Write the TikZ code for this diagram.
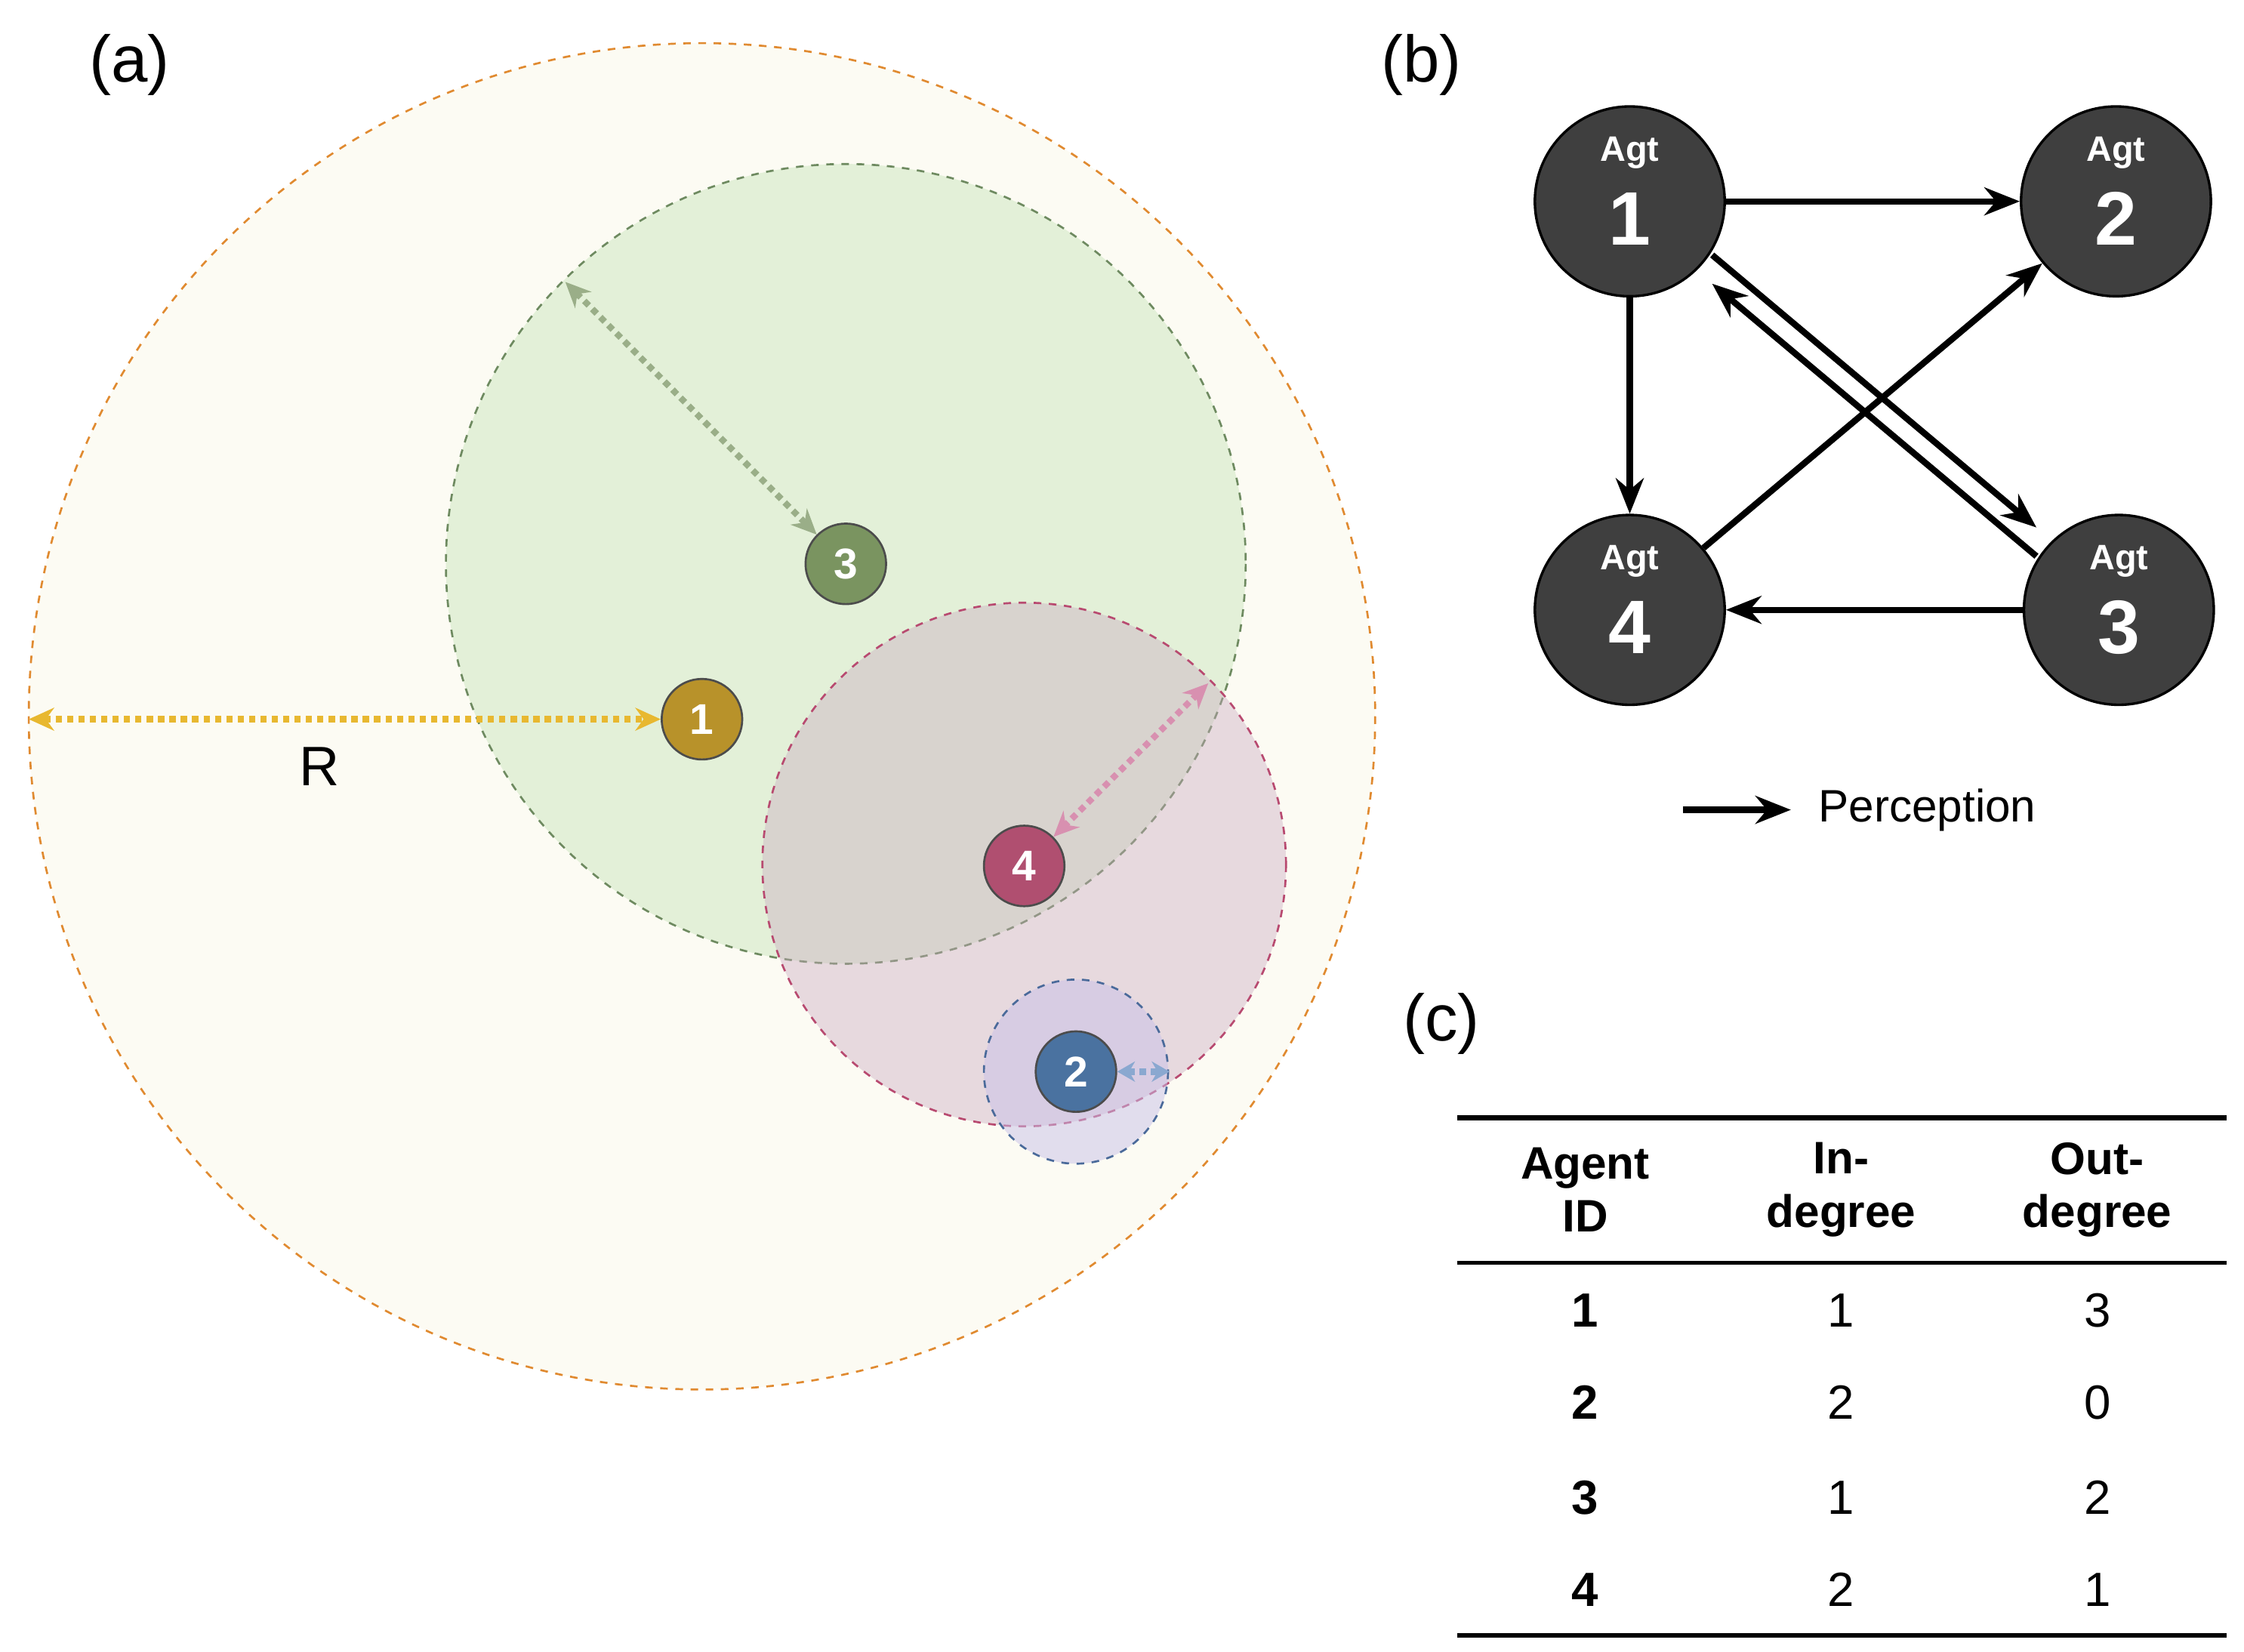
\documentclass[tikz,border=0pt]{standalone}
\usepackage{fontspec}
\setmainfont{Liberation Sans}
\usetikzlibrary{arrows.meta}
\definecolor{bigfill}{HTML}{FCFBF3}
\definecolor{bigline}{HTML}{E08A30}
\definecolor{grfill}{HTML}{E3F0D8}
\definecolor{grline}{HTML}{6E8A60}
\definecolor{pkfill}{HTML}{C8A8C0}
\definecolor{pkline}{HTML}{B84A70}
\definecolor{blfill}{HTML}{C8C0E8}
\definecolor{blline}{HTML}{4A6A9A}
\definecolor{a1}{HTML}{B8922A}
\definecolor{a2}{HTML}{4A72A0}
\definecolor{a3}{HTML}{7A9460}
\definecolor{a4}{HTML}{B04F70}
\definecolor{agt}{HTML}{3F3F3F}
\begin{document}
\begin{tikzpicture}[x=0.02cm,y=-0.02cm,
  agent/.style={circle,draw=black!70,line width=0.8pt,minimum size=1.12cm,inner sep=0pt,text=white,font=\bfseries\fontsize{17}{17}\selectfont},
  big/.style={circle,draw=black,line width=1pt,fill=agt,minimum size=2.64cm,inner sep=0pt},
  agtt/.style={text=white,font=\bfseries\fontsize{14}{14}\selectfont,inner sep=0pt},
  agtn/.style={text=white,font=\bfseries\fontsize{30}{30}\selectfont,inner sep=0pt},
  per/.style={line width=2.5pt,-{Stealth[length=14pt,width=11pt]}},
  dda/.style={line width=2.5pt,dotted,{Stealth[length=10pt,width=9pt]}-{Stealth[length=10pt,width=9pt]}},
  lab/.style={font=\fontsize{26}{26}\selectfont},
  tx/.style={font=\fontsize{18}{21}\selectfont,align=center}]
\useasboundingbox (0,0) rectangle (1560,1148);
% (a)
\draw[bigline,dashed,line width=0.8pt,fill=bigfill] (488,498) circle (468);
\draw[grline,dashed,line width=0.8pt,fill=grfill] (588,392) circle (278);
\draw[pkline,dashed,line width=0.8pt,fill=pkfill,fill opacity=0.4] (712,601) circle (182);
\draw[blline,dashed,line width=0.8pt,fill=blfill,fill opacity=0.5] (748,745) circle (64);
\node[lab] (la) at (90,45) {(a)};
\node[agent,fill=a1] (n1) at (488,500) {1};
\node[agent,fill=a3] (n3) at (588,392) {3};
\node[agent,fill=a4] (n4) at (712,602) {4};
\node[agent,fill=a2] (n2) at (748,745) {2};
\coordinate (ry) at (20,500);
\coordinate (gy) at (393,196);
\coordinate (py) at (840,475);
\coordinate (by) at (813,745);
\draw[dda,color={rgb,255:red,232;green,184;blue,48}] (ry) -- (n1);
\draw[dda,color={rgb,255:red,154;green,174;blue,136}] (gy) -- (n3);
\draw[dda,color={rgb,255:red,216;green,144;blue,176}] (py) -- (n4);
\draw[line width=2.5pt,dotted,{Stealth[length=7pt,width=8pt]}-{Stealth[length=7pt,width=8pt]},color={rgb,255:red,138;green,168;blue,208}] (n2) -- (by);
\node[font=\fontsize{22}{22}\selectfont] (R) at (222,533) {R};
% (b)
\node[lab] (lb) at (988,45) {(b)};
\foreach \n/\x/\y in {1/1133/140,2/1471/140,4/1133/424,3/1473/424}{
  \node[big] (b\n) at (\x,\y) {};
  \node[agtt] (b\n t) at (\x,\y-34) {Agt};
  \node[agtn] (b\n n) at (\x,\y+12) {\n};
}
\draw[per] (b1) -- (b2);
\draw[per] (b1) -- (b4);
\draw[per] ([shift={(10,-10)}]b1.-45) -- ([shift={(-10,-10)}]b3.135);
\draw[per] ([shift={(-10,10)}]b3.135) -- ([shift={(10,10)}]b1.-45);
\draw[per] (b4) -- (b2);
\draw[per] (b3) -- (b4);
\coordinate (l1) at (1170,563);
\coordinate (l2) at (1245,563);
\draw[per] (l1) -- (l2);
\node[tx,anchor=west] (perc) at (1258,563) {Perception};
% (c)
\node[lab] (lc) at (1002,712) {(c)};
\draw[line width=2pt] (1013,777) -- (1548,777);
\draw[line width=1.5pt] (1013,878) -- (1548,878);
\draw[line width=2pt] (1013,1137) -- (1548,1137);
\node[tx,font=\bfseries\fontsize{18}{21}\selectfont] (h1) at (1102,827) {Agent\\ID};
\node[tx,font=\bfseries\fontsize{18}{21}\selectfont] (h2) at (1280,827) {In-\\degree};
\node[tx,font=\bfseries\fontsize{18}{21}\selectfont] (h3) at (1458,827) {Out-\\degree};
\foreach \r/\y/\i/\o in {1/911/1/3,2/975/2/0,3/1041/1/2,4/1105/2/1}{
  \node[tx,font=\bfseries\fontsize{19}{21}\selectfont] (r\r a) at (1102,\y) {\r};
  \node[tx,font=\fontsize{19}{21}\selectfont] (r\r b) at (1280,\y) {\i};
  \node[tx,font=\fontsize{19}{21}\selectfont] (r\r c) at (1458,\y) {\o};
}
\end{tikzpicture}
\end{document}
